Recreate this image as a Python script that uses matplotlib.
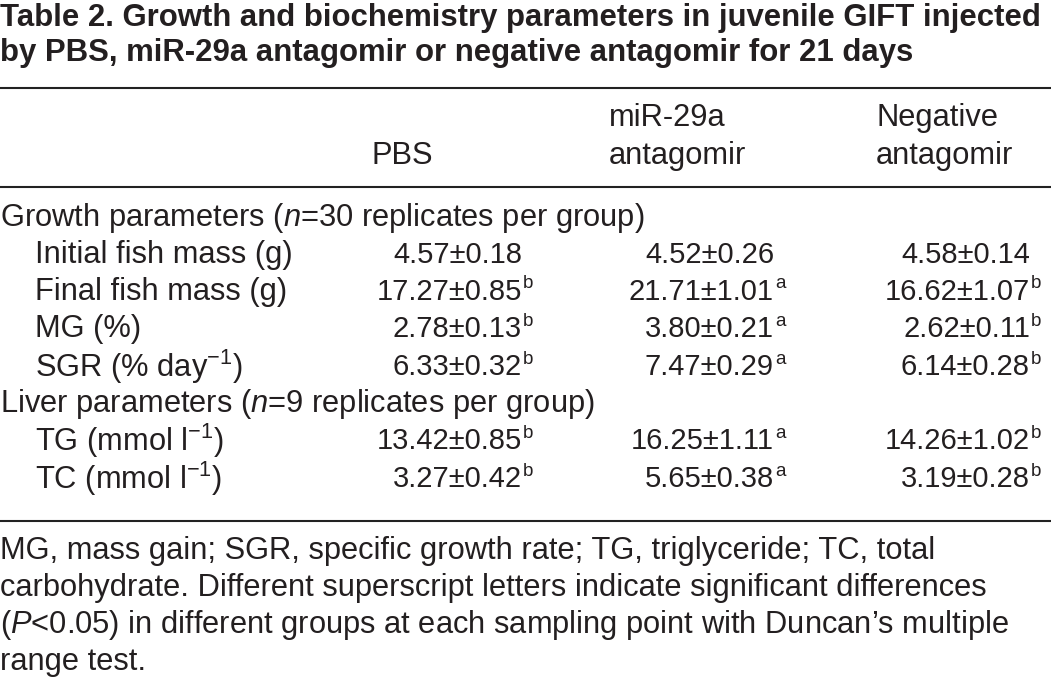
import matplotlib
matplotlib.use("Agg")
import matplotlib.pyplot as plt

# table contents
title_lines = ["Table 2. Growth and biochemistry parameters in juvenile GIFT injected",
               "by PBS, miR-29a antagomir or negative antagomir for 21 days"]
groups = [["", "PBS"], ["miR-29a", "antagomir"], ["Negative", "antagomir"]]
sections = ["Growth parameters ($\\mathit{n}$=30 replicates per group)",
            "Liver parameters ($\\mathit{n}$=9 replicates per group)"]
row_labels = ["Initial fish mass (g)", "Final fish mass (g)", "MG (%)",
              "SGR (% day$^{\u22121}$)", "TG (mmol l$^{\u22121}$)", "TC (mmol l$^{\u22121}$)"]

pbs_mean = [4.57, 17.27, 2.78, 6.33, 13.42, 3.27]
pbs_sd = [0.18, 0.85, 0.13, 0.32, 0.85, 0.42]
pbs_sig = ["", "b", "b", "b", "b", "b"]
anta_mean = [4.52, 21.71, 3.80, 7.47, 16.25, 5.65]
anta_sd = [0.26, 1.01, 0.21, 0.29, 1.11, 0.38]
anta_sig = ["", "a", "a", "a", "a", "a"]
neg_mean = [4.58, 16.62, 2.62, 6.14, 14.26, 3.19]
neg_sd = [0.14, 1.07, 0.11, 0.28, 1.02, 0.28]
neg_sig = ["", "b", "b", "b", "b", "b"]

footnote = ["MG, mass gain; SGR, specific growth rate; TG, triglyceride; TC, total",
            "carbohydrate. Different superscript letters indicate significant differences",
            "($\\mathit{P}$<0.05) in different groups at each sampling point with Duncan\u2019s multiple",
            "range test."]

fam = "Liberation Sans"
plt.rcParams["font.family"] = [fam, "DejaVu Sans"]
plt.rcParams["mathtext.fontset"] = "custom"
plt.rcParams["mathtext.rm"] = fam
plt.rcParams["mathtext.it"] = fam + ":italic"
plt.rcParams["mathtext.default"] = "regular"

W, H = 1051, 684
fig = plt.figure(figsize=(W / 100, H / 100), dpi=100)
ink = "#231f20"
BODY = 22.2
NUM = 21


def put(x, y, s, **kw):
    kw.setdefault("fontsize", BODY)
    kw.setdefault("color", ink)
    kw.setdefault("va", "center")
    fig.text(x / W, 1 - y / H, s, **kw)


def rule(y):
    fig.add_artist(plt.Line2D([0, 1], [1 - y / H, 1 - y / H], color="#222222", lw=1.5))


for i, line in enumerate(title_lines):
    put(0, 18 + i * 35, line, fontsize=22.4, fontweight="bold")

rule(88)
rule(187)
rule(521)

col_right = [522, 774, 1030]
head_x = [372, 609, 876]
for j, g in enumerate(groups):
    put(head_x[j], 118, g[0])
    put(head_x[j], 156, g[1])

row_y = [255, 292, 329, 367, 441, 479]
sec_y = [218, 404]
for k, s in enumerate(sections):
    put(0, sec_y[k], s)

cols = [(pbs_mean, pbs_sd, pbs_sig), (anta_mean, anta_sd, anta_sig), (neg_mean, neg_sd, neg_sig)]
for i, lab in enumerate(row_labels):
    put(35, row_y[i], lab)
    for j, (m, sd, sig) in enumerate(cols):
        put(col_right[j], row_y[i], f"{m[i]:.2f}\u00b1{sd[i]:.2f}", ha="right", fontsize=NUM)
        if sig[i]:
            put(col_right[j] + 1, row_y[i] - 8, sig[i], ha="left", fontsize=13.5)

for i, line in enumerate(footnote):
    put(0, 551 + i * 37, line)

fig.savefig("out.png", dpi=100)
